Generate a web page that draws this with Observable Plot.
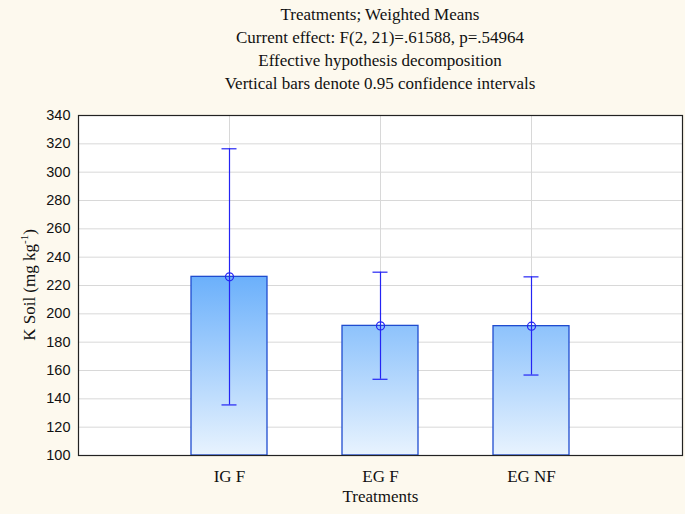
<!DOCTYPE html>
<html>
<head>
<meta charset="utf-8">
<script src="https://cdn.jsdelivr.net/npm/d3@7"></script>
<script src="https://cdn.jsdelivr.net/npm/@observablehq/plot@0.6"></script>
<style>
  html, body { margin: 0; padding: 0; background: #fdf9ee; }
  #wrap { width: 685px; height: 514px; overflow: hidden; background: #fdf9ee; }
  #title { box-sizing: border-box; height: 100px; padding: 3px 3px 0 78px; text-align: center;
    font-family: "Liberation Serif", "Times New Roman", serif; font-size: 17px; line-height: 23px; color: #111; white-space: nowrap; }
</style>
</head>
<body>
<div id="wrap">
  <div id="title">
    <div>Treatments; Weighted Means</div>
    <div>Current effect: F(2, 21)=.61588, p=.54964</div>
    <div>Effective hypothesis decomposition</div>
    <div>Vertical bars denote 0.95 confidence intervals</div>
  </div>
  <div id="chart"></div>
</div>
<script>
const categories = ["IG F", "EG F", "EG NF"];
const means = [226.1, 191.5, 191.3];
const ciLow = [135.7, 153.8, 156.8];
const ciHigh = [316.5, 229.4, 226.1];
const yTicks = [100, 120, 140, 160, 180, 200, 220, 240, 260, 280, 300, 320, 340];
const xLabel = "Treatments";

const data = categories.map((c, i) => ({cat: c, mean: means[i], lo: ciLow[i], hi: ciHigh[i]}));
const base = yTicks[0];
const blue = "#2424f4";
const serif = "Liberation Serif, Times New Roman, serif";

const gradientMark = (index, scales) => {
  const ns = "http://www.w3.org/2000/svg";
  const g = document.createElementNS(ns, "g");
  const defs = document.createElementNS(ns, "defs");
  const lg = document.createElementNS(ns, "linearGradient");
  lg.setAttribute("id", "barGrad");
  lg.setAttribute("gradientUnits", "userSpaceOnUse");
  lg.setAttribute("x1", "0"); lg.setAttribute("x2", "0");
  lg.setAttribute("y1", scales.y(d3.max(means)));
  lg.setAttribute("y2", scales.y(base));
  [["0", "#6bb0fb"], ["1", "#e8f3fe"]].forEach(([o, c]) => {
    const s = document.createElementNS(ns, "stop");
    s.setAttribute("offset", o); s.setAttribute("stop-color", c);
    lg.appendChild(s);
  });
  defs.appendChild(lg); g.appendChild(defs);
  return g;
};

const yLabelMark = (index, scales, values, dims) => {
  const ns = "http://www.w3.org/2000/svg";
  const t = document.createElementNS(ns, "text");
  const cy = (dims.marginTop + dims.height - dims.marginBottom) / 2;
  t.setAttribute("transform", `translate(35,${cy}) rotate(-90)`);
  t.setAttribute("text-anchor", "middle");
  t.setAttribute("font-family", serif);
  t.setAttribute("font-size", "17");
  t.setAttribute("fill", "#111");
  const a = document.createElementNS(ns, "tspan"); a.textContent = "K Soil (mg kg";
  const b = document.createElementNS(ns, "tspan"); b.textContent = "-1";
  b.setAttribute("font-size", "11"); b.setAttribute("dy", "-7");
  const c = document.createElementNS(ns, "tspan"); c.textContent = ")";
  c.setAttribute("dy", "7");
  t.appendChild(a); t.appendChild(b); t.appendChild(c);
  return t;
};

const chart = Plot.plot({
  width: 685,
  height: 414,
  marginTop: 15,
  marginBottom: 59,
  marginLeft: 78,
  marginRight: 3,
  style: {background: "#fdf9ee", overflow: "visible"},
  x: {domain: categories, paddingInner: 0.5, paddingOuter: 0.745, label: null},
  y: {domain: [yTicks[0], yTicks[yTicks.length - 1]], label: null},
  marks: [
    Plot.frame({fill: "white", stroke: "none"}),
    Plot.gridY(yTicks, {stroke: "#d8d8d8", strokeOpacity: 1, strokeWidth: 1}),
    Plot.gridX(categories, {stroke: "#d8d8d8", strokeOpacity: 1, strokeWidth: 1}),
    gradientMark,
    Plot.barY(data, {x: "cat", y1: () => base, y2: "mean", fill: "url(#barGrad)", stroke: "#1f4ccf", strokeWidth: 1.3}),
    Plot.ruleX(data, {x: "cat", y1: "lo", y2: "hi", stroke: blue, strokeWidth: 1.2}),
    Plot.tickY(data, {x: "cat", y: "hi", stroke: blue, strokeWidth: 1.2, insetLeft: 30.5, insetRight: 30.5}),
    Plot.tickY(data, {x: "cat", y: "lo", stroke: blue, strokeWidth: 1.2, insetLeft: 30.5, insetRight: 30.5}),
    Plot.dot(data, {x: "cat", y: "mean", r: 4, stroke: blue, fill: "none", strokeWidth: 1.2}),
    Plot.frame({stroke: "#222", strokeWidth: 1.2}),
    Plot.axisY(yTicks, {tickSize: 0, tickPadding: 8, fontSize: 14.5, fontFamily: "Liberation Sans, Arial, sans-serif", fill: "#111", label: null}),
    Plot.axisX(categories, {tickSize: 0, tickPadding: 14, fontSize: 17, fontFamily: serif, fill: "#111", label: null}),
    Plot.text([xLabel], {frameAnchor: "bottom", dy: 46, text: d => d, fontSize: 17, fontFamily: serif, fill: "#111"}),
    yLabelMark
  ]
});
document.getElementById("chart").appendChild(chart);
</script>
</body>
</html>
